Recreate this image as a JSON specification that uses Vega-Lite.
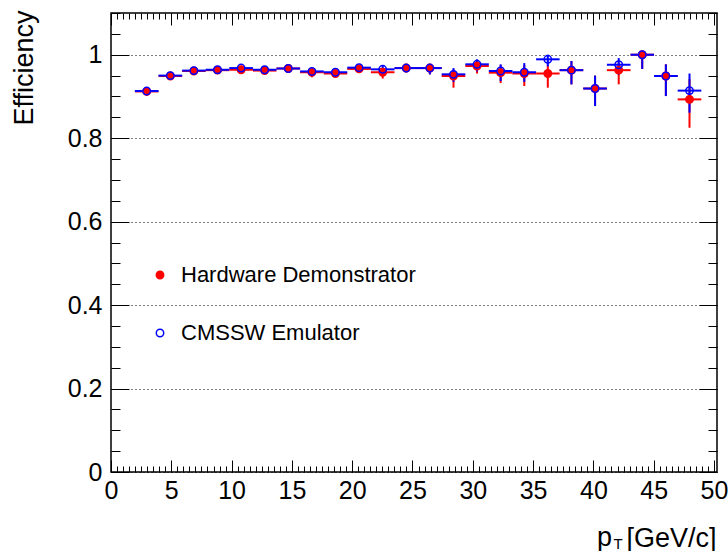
{
  "$schema": "https://vega.github.io/schema/vega-lite/v6.json",
  "width": 606,
  "height": 459,
  "autosize": {"type": "none"},
  "padding": {"left": 111, "top": 13, "right": 11, "bottom": 79},
  "background": "white",
  "config": {
    "view": {"stroke": "black", "strokeWidth": 1.5},
    "axis": {"domain": false, "tickColor": "black", "tickWidth": 1, "labelColor": "black", "labelFont": "Liberation Sans", "titleFont": "Liberation Sans", "titleFontWeight": "normal", "titleColor": "black", "grid": false, "labelFlush": false, "labelOverlap": false, "labelBound": false}
  },
  "data": {"values": [
    {"series": "Hardware Demonstrator", "x": 2.96, "xlo": 1.98, "xhi": 3.94, "y": 0.912, "ylo": 0.908, "yhi": 0.916},
    {"series": "Hardware Demonstrator", "x": 4.92, "xlo": 3.94, "xhi": 5.90, "y": 0.949, "ylo": 0.945, "yhi": 0.953},
    {"series": "Hardware Demonstrator", "x": 6.87, "xlo": 5.90, "xhi": 7.85, "y": 0.961, "ylo": 0.957, "yhi": 0.965},
    {"series": "Hardware Demonstrator", "x": 8.83, "xlo": 7.85, "xhi": 9.81, "y": 0.963, "ylo": 0.959, "yhi": 0.967},
    {"series": "Hardware Demonstrator", "x": 10.79, "xlo": 9.81, "xhi": 11.77, "y": 0.964, "ylo": 0.960, "yhi": 0.968},
    {"series": "Hardware Demonstrator", "x": 12.74, "xlo": 11.77, "xhi": 13.72, "y": 0.962, "ylo": 0.957, "yhi": 0.967},
    {"series": "Hardware Demonstrator", "x": 14.70, "xlo": 13.72, "xhi": 15.68, "y": 0.967, "ylo": 0.962, "yhi": 0.971},
    {"series": "Hardware Demonstrator", "x": 16.66, "xlo": 15.68, "xhi": 17.64, "y": 0.958, "ylo": 0.946, "yhi": 0.965},
    {"series": "Hardware Demonstrator", "x": 18.61, "xlo": 17.64, "xhi": 19.59, "y": 0.955, "ylo": 0.946, "yhi": 0.962},
    {"series": "Hardware Demonstrator", "x": 20.57, "xlo": 19.59, "xhi": 21.55, "y": 0.966, "ylo": 0.958, "yhi": 0.973},
    {"series": "Hardware Demonstrator", "x": 22.53, "xlo": 21.55, "xhi": 23.51, "y": 0.958, "ylo": 0.943, "yhi": 0.968},
    {"series": "Hardware Demonstrator", "x": 24.48, "xlo": 23.51, "xhi": 25.46, "y": 0.968, "ylo": 0.958, "yhi": 0.976},
    {"series": "Hardware Demonstrator", "x": 26.44, "xlo": 25.46, "xhi": 27.42, "y": 0.968, "ylo": 0.953, "yhi": 0.977},
    {"series": "Hardware Demonstrator", "x": 28.40, "xlo": 27.42, "xhi": 29.38, "y": 0.949, "ylo": 0.921, "yhi": 0.965},
    {"series": "Hardware Demonstrator", "x": 30.35, "xlo": 29.38, "xhi": 31.33, "y": 0.973, "ylo": 0.955, "yhi": 0.986},
    {"series": "Hardware Demonstrator", "x": 32.31, "xlo": 31.33, "xhi": 33.29, "y": 0.957, "ylo": 0.932, "yhi": 0.975},
    {"series": "Hardware Demonstrator", "x": 34.27, "xlo": 33.29, "xhi": 35.25, "y": 0.955, "ylo": 0.925, "yhi": 0.975},
    {"series": "Hardware Demonstrator", "x": 36.22, "xlo": 35.25, "xhi": 37.20, "y": 0.955, "ylo": 0.921, "yhi": 0.976},
    {"series": "Hardware Demonstrator", "x": 38.18, "xlo": 37.20, "xhi": 39.16, "y": 0.963, "ylo": 0.929, "yhi": 0.985},
    {"series": "Hardware Demonstrator", "x": 40.14, "xlo": 39.16, "xhi": 41.12, "y": 0.919, "ylo": 0.877, "yhi": 0.950},
    {"series": "Hardware Demonstrator", "x": 42.10, "xlo": 41.12, "xhi": 43.08, "y": 0.963, "ylo": 0.929, "yhi": 0.982},
    {"series": "Hardware Demonstrator", "x": 44.05, "xlo": 43.08, "xhi": 45.03, "y": 1.000, "ylo": 0.966, "yhi": 1.000},
    {"series": "Hardware Demonstrator", "x": 46.01, "xlo": 45.03, "xhi": 46.99, "y": 0.949, "ylo": 0.901, "yhi": 0.977},
    {"series": "Hardware Demonstrator", "x": 47.97, "xlo": 46.99, "xhi": 48.95, "y": 0.893, "ylo": 0.825, "yhi": 0.942},
    {"series": "CMSSW Emulator", "x": 2.96, "xlo": 1.98, "xhi": 3.94, "y": 0.913, "ylo": 0.909, "yhi": 0.917},
    {"series": "CMSSW Emulator", "x": 4.92, "xlo": 3.94, "xhi": 5.90, "y": 0.950, "ylo": 0.946, "yhi": 0.954},
    {"series": "CMSSW Emulator", "x": 6.87, "xlo": 5.90, "xhi": 7.85, "y": 0.962, "ylo": 0.958, "yhi": 0.966},
    {"series": "CMSSW Emulator", "x": 8.83, "xlo": 7.85, "xhi": 9.81, "y": 0.964, "ylo": 0.960, "yhi": 0.968},
    {"series": "CMSSW Emulator", "x": 10.79, "xlo": 9.81, "xhi": 11.77, "y": 0.968, "ylo": 0.964, "yhi": 0.972},
    {"series": "CMSSW Emulator", "x": 12.74, "xlo": 11.77, "xhi": 13.72, "y": 0.964, "ylo": 0.959, "yhi": 0.968},
    {"series": "CMSSW Emulator", "x": 14.70, "xlo": 13.72, "xhi": 15.68, "y": 0.967, "ylo": 0.962, "yhi": 0.971},
    {"series": "CMSSW Emulator", "x": 16.66, "xlo": 15.68, "xhi": 17.64, "y": 0.960, "ylo": 0.952, "yhi": 0.966},
    {"series": "CMSSW Emulator", "x": 18.61, "xlo": 17.64, "xhi": 19.59, "y": 0.958, "ylo": 0.950, "yhi": 0.964},
    {"series": "CMSSW Emulator", "x": 20.57, "xlo": 19.59, "xhi": 21.55, "y": 0.969, "ylo": 0.962, "yhi": 0.975},
    {"series": "CMSSW Emulator", "x": 22.53, "xlo": 21.55, "xhi": 23.51, "y": 0.965, "ylo": 0.955, "yhi": 0.973},
    {"series": "CMSSW Emulator", "x": 24.48, "xlo": 23.51, "xhi": 25.46, "y": 0.968, "ylo": 0.958, "yhi": 0.976},
    {"series": "CMSSW Emulator", "x": 26.44, "xlo": 25.46, "xhi": 27.42, "y": 0.968, "ylo": 0.953, "yhi": 0.977},
    {"series": "CMSSW Emulator", "x": 28.40, "xlo": 27.42, "xhi": 29.38, "y": 0.953, "ylo": 0.935, "yhi": 0.968},
    {"series": "CMSSW Emulator", "x": 30.35, "xlo": 29.38, "xhi": 31.33, "y": 0.977, "ylo": 0.960, "yhi": 0.989},
    {"series": "CMSSW Emulator", "x": 32.31, "xlo": 31.33, "xhi": 33.29, "y": 0.961, "ylo": 0.937, "yhi": 0.977},
    {"series": "CMSSW Emulator", "x": 34.27, "xlo": 33.29, "xhi": 35.25, "y": 0.958, "ylo": 0.935, "yhi": 0.980},
    {"series": "CMSSW Emulator", "x": 36.22, "xlo": 35.25, "xhi": 37.20, "y": 0.989, "ylo": 0.972, "yhi": 1.000},
    {"series": "CMSSW Emulator", "x": 38.18, "xlo": 37.20, "xhi": 39.16, "y": 0.963, "ylo": 0.929, "yhi": 0.985},
    {"series": "CMSSW Emulator", "x": 40.14, "xlo": 39.16, "xhi": 41.12, "y": 0.919, "ylo": 0.877, "yhi": 0.950},
    {"series": "CMSSW Emulator", "x": 42.10, "xlo": 41.12, "xhi": 43.08, "y": 0.976, "ylo": 0.952, "yhi": 0.992},
    {"series": "CMSSW Emulator", "x": 44.05, "xlo": 43.08, "xhi": 45.03, "y": 1.000, "ylo": 0.966, "yhi": 1.000},
    {"series": "CMSSW Emulator", "x": 46.01, "xlo": 45.03, "xhi": 46.99, "y": 0.949, "ylo": 0.901, "yhi": 0.977},
    {"series": "CMSSW Emulator", "x": 47.97, "xlo": 46.99, "xhi": 48.95, "y": 0.914, "ylo": 0.861, "yhi": 0.955}
  ]},
  "resolve": {"axis": {"x": "independent", "y": "independent"}},
  "layer": [
    {
      "transform": [{"filter": "datum.series === 'Hardware Demonstrator'"}],
      "mark": {"type": "rule", "color": "#ff0000", "strokeWidth": 2},
      "encoding": {
        "x": {"field": "xlo", "type": "quantitative", "scale": {"domain": [0, 50.25], "nice": false, "zero": false},
          "axis": {"orient": "bottom", "values": [0, 5, 10, 15, 20, 25, 30, 35, 40, 45, 50], "tickSize": -12, "labelPadding": 18, "labelFontSize": 25,
            "title": "[GeV/c]", "titleFontSize": 27, "titleAlign": "right", "titleBaseline": "alphabetic", "titleX": 605, "titleY": 74}},
        "x2": {"field": "xhi"},
        "y": {"field": "y", "type": "quantitative", "scale": {"domain": [0, 1.1], "nice": false, "zero": false},
          "axis": {"orient": "left", "values": [0, 0.2, 0.4, 0.6, 0.8, 1], "format": "~g", "tickSize": -18, "labelPadding": 27, "labelFontSize": 25,
            "grid": true, "gridDash": [1, 3], "gridColor": "#000000", "gridOpacity": 1, "gridWidth": 1,
            "title": "Efficiency", "titleFontSize": 27, "titleAngle": -90, "titleAlign": "right", "titleBaseline": "alphabetic", "titleX": -79, "titleY": -3}}
      }
    },
    {
      "transform": [{"filter": "datum.series === 'Hardware Demonstrator'"}],
      "mark": {"type": "rule", "color": "#ff0000", "strokeWidth": 2},
      "encoding": {
        "x": {"field": "x", "type": "quantitative", "scale": {"domain": [0, 50.25], "nice": false, "zero": false},
          "axis": {"orient": "bottom", "values": [0,0.5,1,1.5,2,2.5,3,3.5,4,4.5,5,5.5,6,6.5,7,7.5,8,8.5,9,9.5,10,10.5,11,11.5,12,12.5,13,13.5,14,14.5,15,15.5,16,16.5,17,17.5,18,18.5,19,19.5,20,20.5,21,21.5,22,22.5,23,23.5,24,24.5,25,25.5,26,26.5,27,27.5,28,28.5,29,29.5,30,30.5,31,31.5,32,32.5,33,33.5,34,34.5,35,35.5,36,36.5,37,37.5,38,38.5,39,39.5,40,40.5,41,41.5,42,42.5,43,43.5,44,44.5,45,45.5,46,46.5,47,47.5,48,48.5,49,49.5,50], "tickSize": -6, "labels": false, "title": null}},
        "y": {"field": "ylo", "type": "quantitative", "scale": {"domain": [0, 1.1], "nice": false, "zero": false},
          "axis": {"orient": "left", "values": [0,0.05,0.1,0.15,0.2,0.25,0.3,0.35,0.4,0.45,0.5,0.55,0.6,0.65,0.7,0.75,0.8,0.85,0.9,0.95,1,1.05,1.1], "tickSize": -9, "labels": false, "title": null}},
        "y2": {"field": "yhi"}
      }
    },
    {
      "transform": [{"filter": "datum.series === 'CMSSW Emulator'"}],
      "mark": {"type": "rule", "color": "#0000ff", "strokeWidth": 2},
      "encoding": {
        "x": {"field": "xlo", "type": "quantitative", "scale": {"domain": [0, 50.25], "nice": false, "zero": false},
          "axis": {"orient": "top", "values": [0, 5, 10, 15, 20, 25, 30, 35, 40, 45, 50], "tickSize": -12, "labels": false, "title": null}},
        "x2": {"field": "xhi"},
        "y": {"field": "y", "type": "quantitative", "scale": {"domain": [0, 1.1], "nice": false, "zero": false},
          "axis": {"orient": "right", "values": [0, 0.2, 0.4, 0.6, 0.8, 1], "tickSize": -18, "labels": false, "title": null}}
      }
    },
    {
      "transform": [{"filter": "datum.series === 'CMSSW Emulator'"}],
      "mark": {"type": "rule", "color": "#0000ff", "strokeWidth": 2},
      "encoding": {
        "x": {"field": "x", "type": "quantitative", "scale": {"domain": [0, 50.25], "nice": false, "zero": false},
          "axis": {"orient": "top", "values": [0,0.5,1,1.5,2,2.5,3,3.5,4,4.5,5,5.5,6,6.5,7,7.5,8,8.5,9,9.5,10,10.5,11,11.5,12,12.5,13,13.5,14,14.5,15,15.5,16,16.5,17,17.5,18,18.5,19,19.5,20,20.5,21,21.5,22,22.5,23,23.5,24,24.5,25,25.5,26,26.5,27,27.5,28,28.5,29,29.5,30,30.5,31,31.5,32,32.5,33,33.5,34,34.5,35,35.5,36,36.5,37,37.5,38,38.5,39,39.5,40,40.5,41,41.5,42,42.5,43,43.5,44,44.5,45,45.5,46,46.5,47,47.5,48,48.5,49,49.5,50], "tickSize": -6, "labels": false, "title": null}},
        "y": {"field": "ylo", "type": "quantitative", "scale": {"domain": [0, 1.1], "nice": false, "zero": false},
          "axis": {"orient": "right", "values": [0,0.05,0.1,0.15,0.2,0.25,0.3,0.35,0.4,0.45,0.5,0.55,0.6,0.65,0.7,0.75,0.8,0.85,0.9,0.95,1,1.05,1.1], "tickSize": -9, "labels": false, "title": null}},
        "y2": {"field": "yhi"}
      }
    },
    {
      "mark": {"type": "point", "shape": "circle", "size": 55, "strokeWidth": 1.5, "opacity": 1},
      "encoding": {
        "x": {"field": "x", "type": "quantitative", "scale": {"domain": [0, 50.25], "nice": false, "zero": false}, "axis": null},
        "y": {"field": "y", "type": "quantitative", "scale": {"domain": [0, 1.1], "nice": false, "zero": false}, "axis": null},
        "stroke": {"field": "series", "type": "nominal", "scale": {"domain": ["Hardware Demonstrator", "CMSSW Emulator"], "range": ["#ff0000", "#0000ff"]},
          "legend": {"orient": "none", "legendX": 38, "legendY": 251, "title": null, "labelFontSize": 22, "labelFont": "Liberation Sans", "labelColor": "black", "labelLimit": 0, "symbolSize": 55, "symbolStrokeWidth": 1.5, "rowPadding": 36, "labelOffset": 10, "padding": 0}},
        "fill": {"field": "series", "type": "nominal", "scale": {"domain": ["Hardware Demonstrator", "CMSSW Emulator"], "range": ["#ff0000", "transparent"]},
          "legend": {"orient": "none", "legendX": 38, "legendY": 251, "title": null, "labelFontSize": 22, "labelFont": "Liberation Sans", "labelColor": "black", "labelLimit": 0, "symbolSize": 55, "symbolStrokeWidth": 1.5, "rowPadding": 36, "labelOffset": 10, "padding": 0}}
      }
    },
    {
      "data": {"values": [{"sym": "p"}]},
      "mark": {"type": "text", "font": "Liberation Sans", "fontSize": 27, "align": "right", "baseline": "alphabetic", "dx": -105, "dy": 74, "color": "black"},
      "encoding": {
        "text": {"field": "sym", "type": "nominal"},
        "x": {"datum": 50.25, "type": "quantitative", "axis": null},
        "y": {"datum": 0, "type": "quantitative", "axis": null}
      }
    },
    {
      "data": {"values": [{"sub": "T"}]},
      "mark": {"type": "text", "font": "Liberation Sans", "fontSize": 15, "align": "center", "baseline": "alphabetic", "dx": -99, "dy": 77, "color": "black"},
      "encoding": {
        "text": {"field": "sub", "type": "nominal"},
        "x": {"datum": 50.25, "type": "quantitative", "axis": null},
        "y": {"datum": 0, "type": "quantitative", "axis": null}
      }
    }
  ]
}
